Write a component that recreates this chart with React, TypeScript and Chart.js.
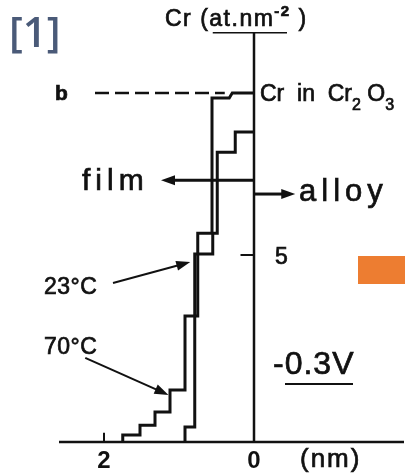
import React, { useEffect, useRef } from "react";
import { Chart, registerables } from "chart.js";

Chart.register(...registerables);

// ---- data (depth in nm, Cr in at.nm^-2) ----
const depth70 = [0, 0.29, 0.33, 0.56, 0.56, 0.75, 0.75, 0.92, 0.92, 1.12, 1.12, 1.32, 1.32, 1.52, 1.52, 1.75, 1.75];
const cr70 = [9.33, 9.33, 9.2, 9.2, 5.58, 5.58, 3.37, 3.37, 1.39, 1.39, 0.8, 0.8, 0.45, 0.45, 0.19, 0.19, 0];
const depth23 = [0, 0.25, 0.25, 0.49, 0.49, 0.55, 0.55, 0.79, 0.79, 0.92, 0.92];
const cr23 = [8.29, 8.29, 7.75, 7.75, 5.58, 5.58, 5.03, 5.03, 0.4, 0.4, 0];
const levelB = [9.33, 9.33];
const levelBDepth = [2.12, 0.39];
const xTickLabels = [2, 0];
const yTickLabels = [5];
const xRange = [-2, 2.6];
const yRange = [0, 11];
const axisTop = 10.94;

const toPts = (xs: number[], ys: number[]) => xs.map((x, i) => ({ x, y: ys[i] }));

const INK = "#111111";
const FONT = "'Liberation Sans', Arial, sans-serif";

function arrow(ctx: CanvasRenderingContext2D, x1: number, y1: number, x2: number, y2: number, lw: number) {
  const ang = Math.atan2(y2 - y1, x2 - x1);
  const hl = 14, hw = 5;
  ctx.save();
  ctx.strokeStyle = INK;
  ctx.fillStyle = INK;
  ctx.lineWidth = lw;
  ctx.beginPath();
  ctx.moveTo(x1, y1);
  ctx.lineTo(x2 - Math.cos(ang) * hl * 0.8, y2 - Math.sin(ang) * hl * 0.8);
  ctx.stroke();
  ctx.beginPath();
  ctx.moveTo(x2, y2);
  ctx.lineTo(x2 - Math.cos(ang) * hl + Math.sin(ang) * hw, y2 - Math.sin(ang) * hl - Math.cos(ang) * hw);
  ctx.lineTo(x2 - Math.cos(ang) * hl - Math.sin(ang) * hw, y2 - Math.sin(ang) * hl + Math.cos(ang) * hw);
  ctx.closePath();
  ctx.fill();
  ctx.restore();
}

type Part = { t: string; size: number; dy?: number; weight?: string };
function rich(ctx: CanvasRenderingContext2D, x: number, y: number, parts: Part[], spacing = 0) {
  ctx.save();
  ctx.fillStyle = INK;
  ctx.strokeStyle = INK;
  ctx.lineWidth = 0.7;
  ctx.textBaseline = "alphabetic";
  ctx.textAlign = "left";
  (ctx as any).letterSpacing = spacing + "px";
  let cx = x;
  for (const p of parts) {
    ctx.font = `${p.weight || "normal"} ${p.size}px ${FONT}`;
    ctx.fillText(p.t, cx, y + (p.dy || 0));
    ctx.strokeText(p.t, cx, y + (p.dy || 0));
    cx += ctx.measureText(p.t).width;
  }
  ctx.restore();
}

const overlay = {
  id: "overlay",
  afterDatasetsDraw(chart: any) {
    const ctx: CanvasRenderingContext2D = chart.ctx;
    const xs = chart.scales.x;
    const ys = chart.scales.y;
    const X = (v: number) => xs.getPixelForValue(v);
    const Y = (v: number) => ys.getPixelForValue(v);

    ctx.save();
    ctx.strokeStyle = INK;
    ctx.lineCap = "butt";
    // y axis
    ctx.lineWidth = 2.5;
    ctx.beginPath();
    ctx.moveTo(X(0), Y(0));
    ctx.lineTo(X(0), Y(axisTop));
    ctx.stroke();
    // top cap
    ctx.lineWidth = 1.5;
    ctx.beginPath();
    ctx.moveTo(X(0.55), Y(axisTop));
    ctx.lineTo(X(-0.44), Y(axisTop));
    ctx.stroke();
    // baseline
    ctx.lineWidth = 2.5;
    ctx.beginPath();
    ctx.moveTo(X(xRange[1]), Y(0));
    ctx.lineTo(X(xRange[0]), Y(0));
    ctx.stroke();
    // ticks
    ctx.lineWidth = 2;
    for (const t of xTickLabels) {
      if (t === 0) continue;
      ctx.beginPath();
      ctx.moveTo(X(t), Y(0));
      ctx.lineTo(X(t), Y(0.25));
      ctx.stroke();
    }
    for (const t of yTickLabels) {
      ctx.beginPath();
      ctx.moveTo(X(0), Y(t));
      ctx.lineTo(X(0.18), Y(t));
      ctx.stroke();
    }
    ctx.restore();

    // tick labels
    ctx.save();
    ctx.fillStyle = INK;
    ctx.font = `bold 24px ${FONT}`;
    ctx.textAlign = "center";
    ctx.textBaseline = "alphabetic";
    for (const t of xTickLabels) ctx.fillText(String(t), X(t), 468);
    ctx.restore();
    for (const t of yTickLabels) rich(ctx, X(0) + 21, Y(t) + 9, [{ t: String(t), size: 23 }]);

    // arrows
    arrow(ctx, X(0), Y(7.0), X(1.24), Y(7.0), 3);
    arrow(ctx, X(0), Y(6.63), X(-0.55), Y(6.63), 3);
    arrow(ctx, X(1.88), Y(4.25), X(0.85), Y(4.81), 2);
    arrow(ctx, X(2.25), Y(2.25), X(1.14), Y(1.26), 2);

    // texts
    rich(ctx, 165, 26, [
      { t: "Cr (at.nm", size: 23 },
      { t: "-2", size: 15, dy: -10, weight: "bold" },
      { t: " )", size: 23 },
    ], 1.5);
    rich(ctx, 55, 100, [{ t: "b", size: 21, weight: "bold" }]);
    rich(ctx, 260, 101, [
      { t: "Cr  in  Cr", size: 23 },
      { t: "2", size: 16, dy: 9 },
      { t: " O", size: 23 },
      { t: "3", size: 16, dy: 9 },
    ]);
    rich(ctx, 82, 190, [{ t: "film", size: 30 }], 5);
    rich(ctx, 299, 201, [{ t: "alloy", size: 31 }], 5);
    rich(ctx, 44, 294, [{ t: "23°C", size: 23 }], 0.5);
    rich(ctx, 44, 354, [{ t: "70°C", size: 23 }], 0.5);
    rich(ctx, 273, 374, [{ t: "-0.3V", size: 32 }], 1);
    rich(ctx, 300, 467, [{ t: "(nm)", size: 26 }], 2);

    ctx.save();
    ctx.strokeStyle = INK;
    ctx.lineWidth = 2;
    ctx.beginPath();
    ctx.moveTo(285, 384);
    ctx.lineTo(353, 384);
    ctx.stroke();
    // label [1]
    ctx.fillStyle = "#4A5A78";
    ctx.font = `600 42px 'Open Sans', sans-serif`;
    ctx.textBaseline = "alphabetic";
    ctx.fillText("[1]", 9, 47);
    // orange block
    ctx.fillStyle = "#ED7D31";
    ctx.fillRect(358, 256, 47, 28);
    ctx.restore();
  },
};

export default function App() {
  const ref = useRef<HTMLCanvasElement>(null);
  useEffect(() => {
    if (!ref.current) return;
    const pxPerUnitY = 37.4;
    const baseline = 442;
    const chart = new Chart(ref.current, {
      type: "scatter",
      data: {
        datasets: [
          {
            label: "70°C",
            data: toPts(depth70, cr70),
            showLine: true,
            borderColor: INK,
            borderWidth: 3,
            pointRadius: 0,
            tension: 0,
            clip: false as any,
          },
          {
            label: "23°C",
            data: toPts(depth23, cr23),
            showLine: true,
            borderColor: INK,
            borderWidth: 3,
            pointRadius: 0,
            tension: 0,
            clip: false as any,
          },
          {
            label: "b",
            data: toPts(levelBDepth, levelB),
            showLine: true,
            borderColor: INK,
            borderWidth: 2.5,
            borderDash: [14, 6],
            pointRadius: 0,
            clip: false as any,
          },
        ],
      },
      options: {
        responsive: false,
        animation: false,
        layout: {
          padding: {
            left: 59,
            right: 1,
            top: baseline - yRange[1] * pxPerUnitY,
            bottom: 475 - baseline,
          },
        },
        plugins: { legend: { display: false }, tooltip: { enabled: false } },
        scales: {
          x: { type: "linear", min: xRange[0], max: xRange[1], reverse: true, display: false },
          y: { type: "linear", min: yRange[0], max: yRange[1], display: false },
        },
      },
      plugins: [overlay],
    });
    return () => chart.destroy();
  }, []);
  return (
    <div style={{ position: "absolute", left: 0, top: 0, width: 405, height: 475, background: "#fff" }}>
      <canvas ref={ref} width={405} height={475} style={{ width: 405, height: 475 }} />
    </div>
  );
}
